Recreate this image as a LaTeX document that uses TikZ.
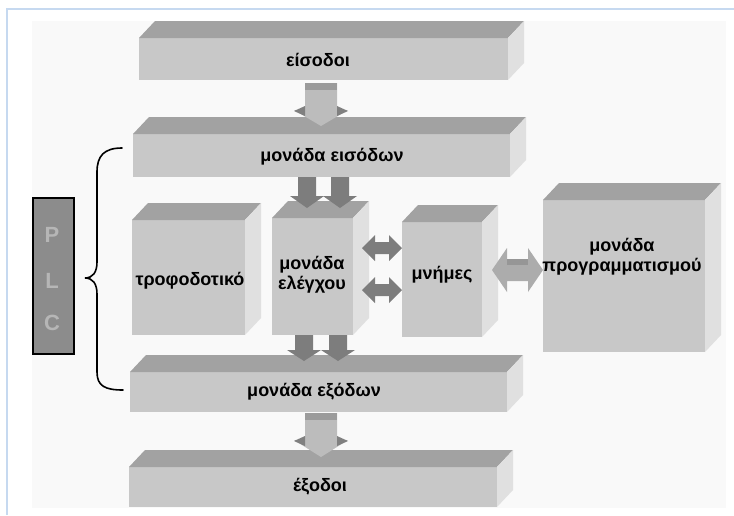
\documentclass[tikz,border=0pt]{standalone}
\usepackage{fontspec}
\setmainfont{Liberation Sans}
\usetikzlibrary{calc}

\definecolor{pagebg}{RGB}{249,249,249}
\definecolor{frameblue}{RGB}{198,217,240}
\definecolor{frontgray}{RGB}{200,200,200}
\definecolor{topgray}{RGB}{162,162,162}
\definecolor{sidegray}{RGB}{224,224,224}
\definecolor{pairgray}{RGB}{125,125,125}
\definecolor{shaftgray}{RGB}{188,188,188}
\definecolor{capgray}{RGB}{155,155,155}
\definecolor{winggray}{RGB}{128,128,128}
\definecolor{biggray}{RGB}{172,172,172}
\definecolor{bigtop}{RGB}{150,150,150}
\definecolor{plcgray}{RGB}{140,140,140}
\definecolor{plcletter}{RGB}{182,182,182}

% a solid block: front face as a node, with top and right faces behind it
\newcommand\slab[5]{% name, x1, y1, x2, y2
  \node[frontface, minimum width={#4pt-#2pt}, minimum height={#5pt-#3pt}] (#1) at (#2,#3) {};
  \fill[topgray] (#1.north west) -- ++(16,-17) -- ($(#1.north east)+(16,-17)$) -- (#1.north east) -- cycle;
  \fill[sidegray] (#1.north east) -- ++(16,-17) -- ($(#1.south east)+(16,-17)$) -- (#1.south east) -- cycle;
}
% flat downward arrow: centre x, top, wing line, tip
\newcommand\pairarrow[4]{%
  \fill[pairgray] (#1-9,#2) -- (#1+9,#2) -- (#1+9,#3) -- (#1+17,#3) -- (#1,#4)
    -- (#1-17,#3) -- (#1-9,#3) -- cycle;
}
% raised downward arrow: centre x, top, wing line, tip
\newcommand\liftarrow[4]{%
  \fill[shaftgray] (#1-16,#2) -- (#1+16,#2) -- (#1+16,#3) -- (#1+27,#3) -- (#1,#4)
    -- (#1-27,#3) -- (#1-16,#3) -- cycle;
  \fill[capgray] (#1-16,#2) rectangle (#1+16,#2+7);
  \fill[winggray] (#1-27,#3+1) -- (#1-16,#3-4) -- (#1-16,#3+6) -- cycle;
  \fill[winggray] (#1+27,#3+1) -- (#1+16,#3-4) -- (#1+16,#3+6) -- cycle;
}
% double-headed horizontal arrow: x1, x2, centre y, shaft half, head half, head length
\newcommand\twoway[6]{%
  (#1,#3) -- (#1+#6,#3-#5) -- (#1+#6,#3-#4) -- (#2-#6,#3-#4) -- (#2-#6,#3-#5)
  -- (#2,#3) -- (#2-#6,#3+#5) -- (#2-#6,#3+#4) -- (#1+#6,#3+#4) -- (#1+#6,#3+#5) -- cycle
}

\begin{document}
\begin{tikzpicture}[x=1pt,y=-1pt,
  frontface/.style={fill=frontgray, draw=none, inner sep=0pt, outer sep=0pt, anchor=north west},
  lbl/.style={font=\bfseries\fontsize{18}{20}\selectfont, align=center, inner sep=0pt, text=black},
  plcl/.style={font=\bfseries\fontsize{22}{24}\selectfont, text=plcletter, inner sep=0pt}]

\useasboundingbox (0,0) rectangle (734,515);
\fill[white] (0,0) rectangle (734,515);

% page area and its frame
\fill[pagebg] (32,21) rectangle (726,508);
\draw[frameblue, line width=2pt] (7,515) -- (7,9) -- (734,9);

% blocks
\slab{inputs}{139}{38}{508}{80}
\slab{inunit}{133}{134}{510}{177}
\slab{power}{132}{220}{245}{335}
\slab{cpu}{272}{218}{353}{335}
\slab{mem}{402}{222}{482}{337}
\slab{prog}{543}{200}{705}{352}
\slab{outunit}{130}{372}{507}{412}
\slab{outputs}{129}{467}{497}{507}

% connectors between the blocks
\liftarrow{321}{83}{110}{126}
\pairarrow{307}{177}{196}{208}
\pairarrow{340}{177}{196}{208}
\fill[pairgray] \twoway{362}{402}{248}{6}{13}{13};
\fill[pairgray] \twoway{362}{402}{290}{6}{13}{13};
\fill[biggray] \twoway{492}{543}{270}{11}{22}{15};
\fill[bigtop] (507,259) rectangle (528,265);
\pairarrow{304}{335}{350}{361}
\pairarrow{338}{335}{350}{361}
\liftarrow{321}{413}{440}{457}

% labels
\node[lbl] (t-inputs) at (318,60) {είσοδοι};
\node[lbl] (t-inunit) at (332,157) {μονάδα εισόδων};
\node[lbl] (t-power) at (190,281) {τροφοδοτικό};
\node[lbl] (t-cpu) at (312,275) {μονάδα\\ελέγχου};
\node[lbl] (t-mem) at (442,275) {μνήμες};
\node[lbl] (t-prog) at (622,257) {μονάδα\\προγραμματισμού};
\node[lbl] (t-outunit) at (314,392) {μονάδα εξόδων};
\node[lbl] (t-outputs) at (320,487) {έξοδοι};

% PLC bar and brace
\node[draw=black, line width=1.8pt, fill=plcgray, minimum width=41pt, minimum height=156pt, inner sep=0pt] (plc) at (53.5,276) {};
\node[plcl] (plc-p) at (52,235) {P};
\node[plcl] (plc-l) at (52,281) {L};
\node[plcl] (plc-c) at (52,323) {C};

\draw[line width=1.6pt, line cap=round] (122,148) .. controls (104,148) and (97,156) .. (97,172)
  -- (97,262) .. controls (97,272) and (93,278) .. (85,278)
  .. controls (93,278) and (97,284) .. (97,294)
  -- (97,372) .. controls (97,386) and (105,390) .. (123,390);
\end{tikzpicture}
\end{document}
